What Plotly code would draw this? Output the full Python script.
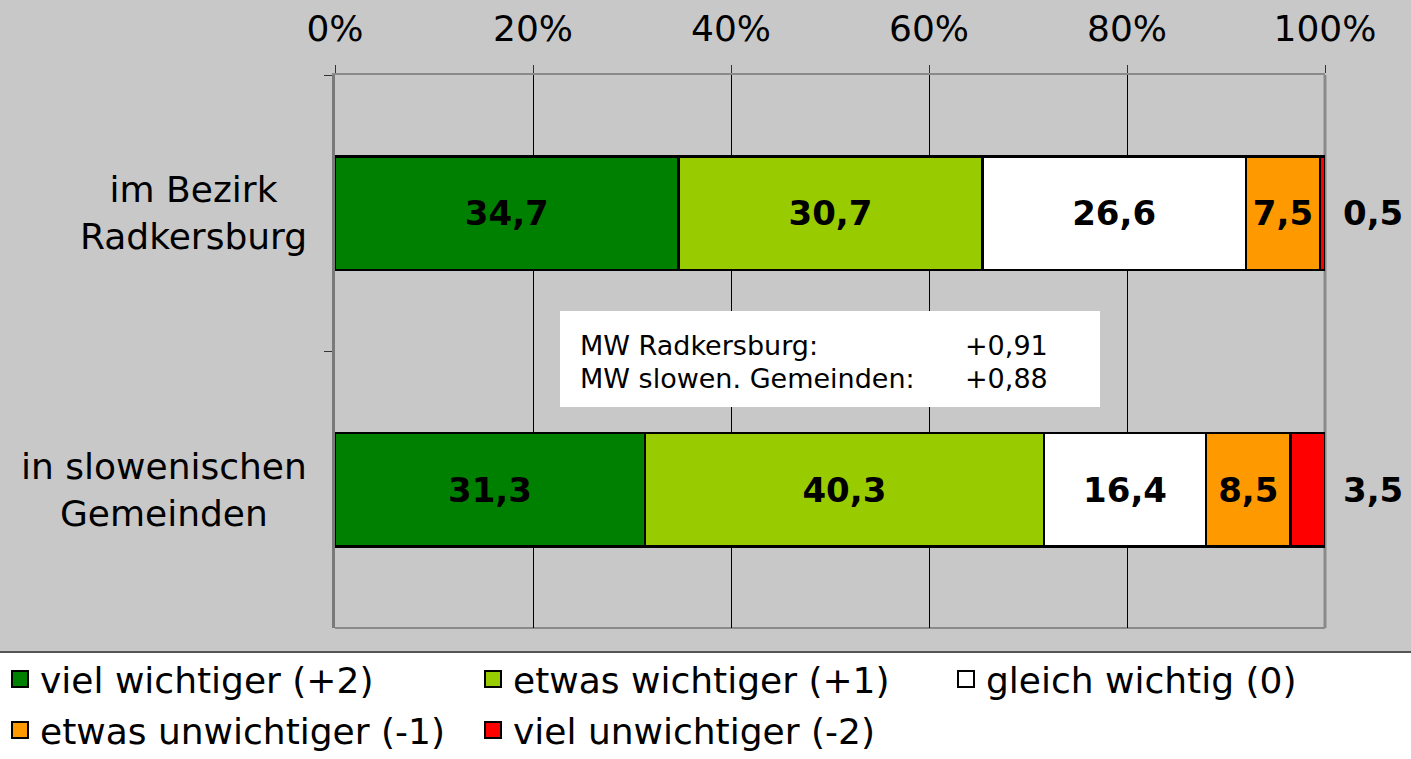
import plotly.graph_objects as go

categories = ["im Bezirk<br>Radkersburg", "in slowenischen<br>Gemeinden"]
series_names = ["viel wichtiger (+2)", "etwas wichtiger (+1)", "gleich wichtig (0)",
                "etwas unwichtiger (-1)", "viel unwichtiger (-2)"]
series_colors = ["#008000", "#99CC00", "#FFFFFF", "#FF9900", "#FF0000"]
viel_wichtiger = [34.7, 31.3]
etwas_wichtiger = [30.7, 40.3]
gleich_wichtig = [26.6, 16.4]
etwas_unwichtiger = [7.5, 8.5]
viel_unwichtiger = [0.5, 3.5]
x_ticks = [0, 20, 40, 60, 80, 100]
x_tick_labels = ["0%", "20%", "40%", "60%", "80%", "100%"]
mw_labels = ["MW Radkersburg:", "MW slowen. Gemeinden:"]
mw_values = ["+0,91", "+0,88"]

series_values = [viel_wichtiger, etwas_wichtiger, gleich_wichtig, etwas_unwichtiger, viel_unwichtiger]
legend_ids = ["legend", "legend", "legend", "legend2", "legend2"]
legend_widths = [428, 428, 334, 428, 428]

W, H = 1411, 759
L, R, T, B = 335, 1411 - 1325, 75, 759 - 628
pw, ph = W - L - R, H - T - B

def fmt(v):
    return f"{v:.1f}".replace(".", ",")

def px_x(p):
    return (p - L) / pw

def px_y(p):
    return (H - B - p) / ph

FONT = "DejaVu Sans"
fig = go.Figure()
for i, (name, vals, col) in enumerate(zip(series_names, series_values, series_colors)):
    show_text = i < 4
    fig.add_trace(go.Bar(
        y=categories, x=vals, orientation="h", name=name,
        marker=dict(color=col, line=dict(color="black", width=2.5)),
        width=0.41,
        text=[fmt(v) for v in vals] if show_text else None,
        textposition="inside" if show_text else "none",
        insidetextanchor="middle", textangle=0, constraintext="none",
        textfont=dict(family=FONT, size=34, color="black", weight="bold"),
        showlegend=False, hoverinfo="skip",
    ))
    # legend proxy
    fig.add_trace(go.Scatter(
        x=[None], y=[None], mode="markers", name=name,
        marker=dict(symbol="square", size=16, color=col, line=dict(color="black", width=2)),
        showlegend=True, hoverinfo="skip", legend=legend_ids[i], legendwidth=legend_widths[i],
    ))

annotations = []
for cat, vals in zip(categories, zip(*series_values)):
    annotations.append(dict(x=sum(vals), y=cat, xref="x", yref="y", text=fmt(vals[-1]),
                            xanchor="left", xshift=16, showarrow=False,
                            font=dict(family=FONT, size=34, color="black", weight="bold")))
for cat in categories:
    annotations.append(dict(x=0, y=cat, xref="paper", yref="y", text=cat, xanchor="right",
                            align="center", xshift=-26, showarrow=False,
                            font=dict(family=FONT, size=36, color="black")))
ys_px = [345, 378]
for lab, val, ypx in zip(mw_labels, mw_values, ys_px):
    yp = px_y(ypx)
    annotations.append(dict(x=px_x(578), y=yp, xref="paper", yref="paper", text=lab,
                            xanchor="left", yanchor="middle", showarrow=False,
                            font=dict(family=FONT, size=27, color="black")))
    annotations.append(dict(x=px_x(963), y=yp, xref="paper", yref="paper", text=val,
                            xanchor="left", yanchor="middle", showarrow=False,
                            font=dict(family=FONT, size=27, color="black")))

shapes = [
    dict(type="rect", xref="paper", yref="paper", x0=px_x(0), x1=px_x(W), y0=px_y(652), y1=px_y(0),
         fillcolor="#C8C8C8", line=dict(width=0), layer="below"),
    dict(type="line", xref="paper", yref="paper", x0=px_x(0), x1=px_x(W), y0=px_y(652), y1=px_y(652),
         line=dict(color="#555555", width=2), layer="below"),
    dict(type="line", xref="paper", yref="paper", x0=1, x1=1, y0=0, y1=1,
         line=dict(color="#8A8A8A", width=3), layer="below"),
    dict(type="line", xref="paper", yref="paper", x0=0, x1=1, y0=0, y1=0,
         line=dict(color="#8A8A8A", width=2), layer="below"),
    dict(type="rect", xref="paper", yref="paper", x0=px_x(560), x1=px_x(1100), y0=px_y(407), y1=px_y(311),
         fillcolor="white", line=dict(width=0), layer="above"),
]

legend_common = dict(orientation="h", xref="paper", yref="paper", xanchor="left", yanchor="top",
                     entrywidthmode="pixels", traceorder="normal",
                     font=dict(family=FONT, size=36, color="black"),
                     bgcolor="rgba(0,0,0,0)", itemclick=False, itemdoubleclick=False)

fig.update_layout(
    width=W, height=H,
    margin=dict(l=L, r=R, t=T, b=B, pad=0, autoexpand=False),
    paper_bgcolor="white", plot_bgcolor="#C8C8C8",
    barmode="stack",
    font=dict(family=FONT, color="black"),
    xaxis=dict(side="top", range=[0, 100], tickvals=x_ticks, ticktext=x_tick_labels,
               tickfont=dict(family=FONT, size=36, color="black"),
               ticks="outside", ticklen=8, tickcolor="#333333", tickwidth=1,
               ticklabelstandoff=10,
               showgrid=True, gridcolor="black", gridwidth=1,
               showline=True, linecolor="#8A8A8A", linewidth=2,
               zeroline=False, fixedrange=True),
    yaxis=dict(autorange="reversed", type="category", showticklabels=False,
               ticks="outside", ticklen=8, tickcolor="#333333", tickwidth=1,
               tickson="boundaries", showgrid=False,
               showline=True, linecolor="#7A7A7A", linewidth=3, zeroline=False,
               fixedrange=True),
    legend=dict(x=px_x(0), y=px_y(649), **legend_common),
    legend2=dict(x=px_x(0), y=px_y(700), **legend_common),
    annotations=annotations,
    shapes=shapes,
    showlegend=True,
)

fig.write_html("out.html", config={"displayModeBar": False},
               post_script="document.body.style.margin='0';")
